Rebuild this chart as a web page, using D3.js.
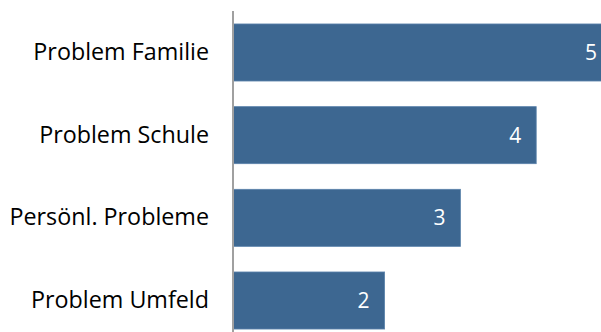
<!DOCTYPE html>
<html>
<head>
<meta charset="utf-8">
<script src="https://cdn.jsdelivr.net/npm/d3@7"></script>
<style>
  body { margin: 0; background: #fff; }
  svg { display: block; }
  text { font-family: "Open Sans", sans-serif; }
</style>
</head>
<body>
<div id="chart"></div>
<script>
// data
var categories = ["Problem Familie", "Problem Schule", "Persönl. Probleme", "Problem Umfeld"];
var values = [5, 4, 3, 2];

var width = 601, height = 332;
var margin = { top: 0, right: 0, bottom: 0, left: 233 };

var svg = d3.select("#chart")
    .append("svg")
    .attr("width", width)
    .attr("height", height);

var g = svg.append("g")
    .attr("transform", `translate(${margin.left},${margin.top})`);

var xScale = d3.scaleLinear()
    .domain([0, 5])
    .range([0, 379]);

var yScale = d3.scaleBand()
    .domain(categories)
    .range([0, 353])
    .paddingInner(0.31)
    .paddingOuter(0.29);

// bars
g.selectAll(".bar")
    .data(values)
    .enter()
    .append("rect")
    .attr("class", "bar")
    .attr("x", 0)
    .attr("y", function (d, i) { return yScale(categories[i]); })
    .attr("height", yScale.bandwidth())
    .attr("width", function (d) { return xScale(d); })
    .attr("fill", "#3d6791")
    .attr("stroke", "#5b82ab")
    .attr("stroke-width", 0.8);

// value labels
g.selectAll(".bar-label")
    .data(values)
    .enter()
    .append("text")
    .attr("class", "bar-label")
    .attr("x", function (d) { return xScale(d) - 15; })
    .attr("y", function (d, i) { return yScale(categories[i]) + yScale.bandwidth() / 2; })
    .attr("dy", "0.36em")
    .attr("text-anchor", "end")
    .style("font-size", "21px")
    .style("fill", "#fff")
    .text(function (d) { return d; });

// category axis
var yAxis = d3.axisLeft(yScale).tickSize(0).tickPadding(24);

var ax = g.append("g")
    .attr("class", "y-axis")
    .call(yAxis);

ax.select(".domain").remove();
ax.selectAll("text")
    .style("font-size", "23.3px")
    .style("fill", "#000")
    .style("font-family", "'Open Sans', sans-serif");

g.append("line")
    .attr("x1", 0)
    .attr("x2", 0)
    .attr("y1", 11)
    .attr("y2", height)
    .attr("stroke", "#a0a0a0")
    .attr("stroke-width", 2);
</script>
</body>
</html>
